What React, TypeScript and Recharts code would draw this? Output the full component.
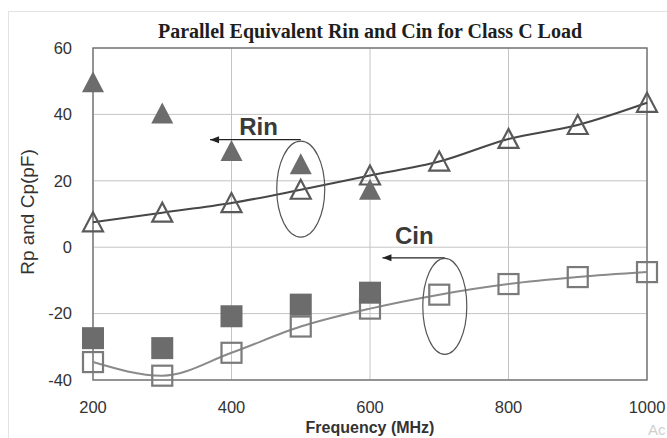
import React from 'react';
import {
  ComposedChart, Line, Scatter, XAxis, YAxis, CartesianGrid,
  ReferenceArea, ReferenceLine, ReferenceDot,
} from 'recharts';

// ---- data ----
const freqs = [200, 300, 400, 500, 600, 700, 800, 900, 1000];
const rinModel = [7.5, 10.4, 13.3, 17.3, 21.6, 25.8, 32.6, 36.8, 43.5];
const cinModel = [-34.6, -38.7, -31.8, -23.9, -18.5, -14.3, -11.1, -9.0, -7.5];
const measFreqs = [200, 300, 400, 500, 600];
const rinMeasured = [49.7, 40.3, 29.0, 25.0, 17.3];
const cinMeasured = [-27.4, -30.4, -20.8, -17.3, -13.7];
const xTicks = [200, 400, 600, 800, 1000];
const yTicks = [-40, -20, 0, 20, 40, 60];

const title = 'Parallel Equivalent Rin and Cin for Class C Load';
const xLabel = 'Frequency (MHz)';
const yLabel = 'Rp and Cp(pF)';

// annotation anchors (data units)
const rinNote = { text: 'Rin', x: 439, y: 33.9 };
const rinArrow = { from: 500, to: 369, y: 32.4 };
const rinEllipse = { x: 500, y: 17.5 };
const cinNote = { text: 'Cin', x: 664, y: 1.0 };
const cinArrow = { from: 708, to: 618, y: -3.2 };
const cinEllipse = { x: 708, y: -17.8 };

const modelData = freqs.map((f, i) => ({ f, rin: rinModel[i], cin: cinModel[i] }));
const rinMeasData = measFreqs.map((f, i) => ({ f, v: rinMeasured[i] }));
const cinMeasData = measFreqs.map((f, i) => ({ f, v: cinMeasured[i] }));

const FONT = '"Liberation Sans", Arial, sans-serif';
const FILL = '#6c6c6c';

const OpenTriangle = (p: any) => {
  const { cx, cy, index } = p;
  if (cx == null || cy == null) return <g key={index} />;
  return (
    <polygon key={index}
      points={`${cx},${cy - 10} ${cx - 10},${cy + 9} ${cx + 10},${cy + 9}`}
      fill="none" stroke="#5a5a5a" strokeWidth={2.2} />
  );
};
const OpenSquare = (p: any) => {
  const { cx, cy, index } = p;
  if (cx == null || cy == null) return <g key={index} />;
  return (
    <rect key={index} x={cx - 10} y={cy - 10} width={20} height={20}
      fill="none" stroke="#7a7a7a" strokeWidth={2.2} />
  );
};
const FilledTriangle = (p: any) => {
  const { cx, cy } = p;
  return (
    <polygon points={`${cx},${cy - 11} ${cx - 11},${cy + 10} ${cx + 11},${cy + 10}`}
      fill={FILL} />
  );
};
const FilledSquare = (p: any) => {
  const { cx, cy } = p;
  return <rect x={cx - 11} y={cy - 11} width={22} height={22} fill={FILL} />;
};

const ArrowHead = (p: any) => {
  const { cx, cy } = p;
  return <polygon points={`${cx},${cy} ${cx + 9},${cy - 3.5} ${cx + 9},${cy + 3.5}`} fill="#222" />;
};
const makeEllipse = (rx: number, ry: number) => (p: any) => (
  <ellipse cx={p.cx} cy={p.cy} rx={rx} ry={ry} fill="none" stroke="#555" strokeWidth={1.2} />
);
const makeNote = (text: string) => (p: any) => (
  <text x={p.cx} y={p.cy} textAnchor="middle" fontFamily={FONT} fontWeight="bold"
    fontSize={24} fill="#3a3a3a">{text}</text>
);

const XLabelContent = () => (
  <text x={370} y={433} textAnchor="middle" fontFamily={FONT} fontWeight="bold"
    fontSize={16} fill="#333">{xLabel}</text>
);
const YLabelContent = () => (
  <text x={27} y={212} transform="rotate(-90 27 212)" textAnchor="middle"
    dominantBaseline="central" fontFamily={FONT} fontSize={19} fill="#333">{yLabel}</text>
);

export default function App() {
  return (
    <div style={{ position: 'absolute', left: 0, top: 0, width: 667, height: 438, background: '#fff', overflow: 'hidden' }}>
      <div style={{ position: 'absolute', left: 8, top: 11, width: 700, height: 500, borderLeft: '1px solid #e3e3e3', borderTop: '1px solid #e3e3e3' }} />
      <div style={{
        position: 'absolute', left: 93, width: 554, top: 20, textAlign: 'center',
        fontFamily: '"Liberation Serif", "Times New Roman", serif', fontWeight: 'bold',
        fontSize: 20, lineHeight: '23px', color: '#1e1e1e', whiteSpace: 'nowrap',
      }}>{title}</div>
      <div style={{ position: 'absolute', left: 0, top: 0 }}>
        <ComposedChart width={667} height={438} data={modelData}
          margin={{ top: 48, right: 20, bottom: 0, left: 33 }}>
          <CartesianGrid stroke="#c4c4c4" strokeWidth={1} />
          <XAxis dataKey="f" type="number" domain={[200, 1000]} ticks={xTicks}
            axisLine={false} tickLine={false} tickSize={0} tickMargin={21}
            height={58} interval={0}
            tick={{ fill: '#333', fontSize: 16.5, fontFamily: FONT }}
            label={<XLabelContent />} />
          <YAxis type="number" domain={[-40, 60]} ticks={yTicks}
            axisLine={false} tickLine={false} tickSize={0} tickMargin={21} width={60} interval={0}
            tick={{ fill: '#333', fontSize: 16.5, fontFamily: FONT }}
            label={<YLabelContent />} />
          <ReferenceArea x1={200} x2={1000} y1={-40} y2={60} fill="none"
            stroke="#7a7a7a" strokeWidth={1.5} fillOpacity={0} />
          <Line type="monotone" dataKey="rin" stroke="#474747" strokeWidth={2}
            dot={OpenTriangle} activeDot={false} isAnimationActive={false} />
          <Line type="monotone" dataKey="cin" stroke="#8a8a8a" strokeWidth={2}
            dot={OpenSquare} activeDot={false} isAnimationActive={false} />
          <Scatter data={rinMeasData} dataKey="v" shape={FilledTriangle} isAnimationActive={false} />
          <Scatter data={cinMeasData} dataKey="v" shape={FilledSquare} isAnimationActive={false} />
          <ReferenceLine segment={[{ x: rinArrow.to, y: rinArrow.y }, { x: rinArrow.from, y: rinArrow.y }]}
            stroke="#222" strokeWidth={1.3} />
          <ReferenceDot x={rinArrow.to} y={rinArrow.y} shape={ArrowHead} />
          <ReferenceLine segment={[{ x: cinArrow.to, y: cinArrow.y }, { x: cinArrow.from, y: cinArrow.y }]}
            stroke="#222" strokeWidth={1.3} />
          <ReferenceDot x={cinArrow.to} y={cinArrow.y} shape={ArrowHead} />
          <ReferenceDot x={rinEllipse.x} y={rinEllipse.y} shape={makeEllipse(24, 48)} />
          <ReferenceDot x={cinEllipse.x} y={cinEllipse.y} shape={makeEllipse(22, 48)} />
          <ReferenceDot x={rinNote.x} y={rinNote.y} shape={makeNote(rinNote.text)} />
          <ReferenceDot x={cinNote.x} y={cinNote.y} shape={makeNote(cinNote.text)} />
        </ComposedChart>
      </div>
      <div style={{ position: 'absolute', left: 648, top: 421, fontFamily: FONT, fontSize: 15, color: '#cfcfcf', whiteSpace: 'nowrap' }}>Ac</div>
    </div>
  );
}
